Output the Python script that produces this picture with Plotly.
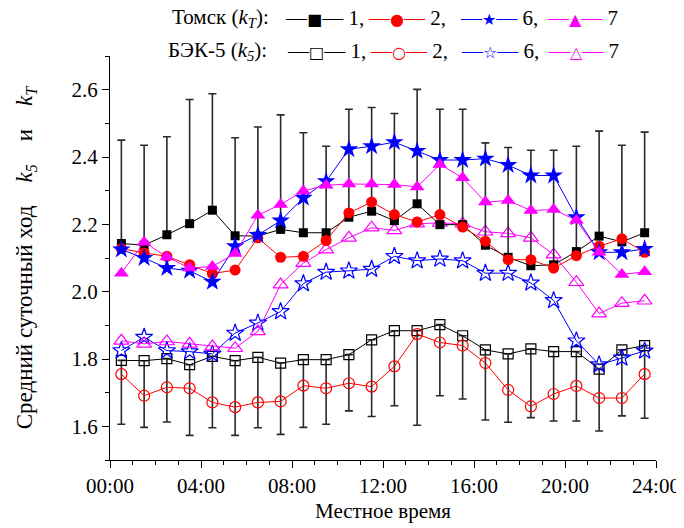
import plotly.graph_objects as go

hours = [h + 0.5 for h in range(24)]

tomsk_1 = [2.143, 2.138, 2.169, 2.202, 2.242, 2.166, 2.165, 2.185, 2.175, 2.175, 2.221, 2.239,
           2.211, 2.261, 2.199, 2.199, 2.138, 2.102, 2.077, 2.080, 2.119, 2.165, 2.148, 2.175]
tomsk_1_err = [0.307, 0.297, 0.291, 0.369, 0.346, 0.291, 0.324, 0.340, 0.297, 0.257, 0.321, 0.308,
               0.318, 0.340, 0.343, 0.343, 0.304, 0.326, 0.343, 0.340, 0.313, 0.312, 0.287, 0.299]
tomsk_2 = [2.128, 2.115, 2.105, 2.080, 2.054, 2.064, 2.160, 2.102, 2.105, 2.152, 2.234, 2.266,
           2.229, 2.207, 2.229, 2.192, 2.150, 2.095, 2.095, 2.070, 2.107, 2.135, 2.157, 2.117]
tomsk_6 = [2.125, 2.100, 2.070, 2.062, 2.029, 2.135, 2.168, 2.211, 2.279, 2.328, 2.423, 2.432,
           2.444, 2.418, 2.391, 2.391, 2.395, 2.376, 2.345, 2.345, 2.221, 2.117, 2.117, 2.127]
tomsk_7 = [2.055, 2.147, 2.103, 2.070, 2.075, 2.113, 2.227, 2.259, 2.299, 2.316, 2.320, 2.320,
           2.318, 2.311, 2.378, 2.338, 2.266, 2.271, 2.241, 2.244, 2.212, 2.117, 2.051, 2.059]

bek_1 = [1.796, 1.795, 1.801, 1.783, 1.808, 1.795, 1.805, 1.788, 1.798, 1.798, 1.813, 1.857,
         1.884, 1.884, 1.902, 1.869, 1.827, 1.815, 1.830, 1.822, 1.822, 1.770, 1.827, 1.840]
bek_1_err = [0.190, 0.198, 0.188, 0.210, 0.212, 0.222, 0.209, 0.212, 0.201, 0.192, 0.167, 0.228,
             0.223, 0.281, 0.211, 0.188, 0.208, 0.203, 0.204, 0.206, 0.206, 0.184, 0.196, 0.216]
bek_2 = [1.755, 1.691, 1.716, 1.713, 1.671, 1.657, 1.671, 1.674, 1.721, 1.713, 1.728, 1.718,
         1.778, 1.874, 1.849, 1.840, 1.788, 1.708, 1.659, 1.696, 1.720, 1.684, 1.684, 1.755]
bek_6 = [1.825, 1.865, 1.825, 1.822, 1.815, 1.877, 1.907, 1.941, 2.024, 2.058, 2.062, 2.067,
         2.105, 2.092, 2.097, 2.092, 2.055, 2.055, 2.026, 1.974, 1.854, 1.783, 1.803, 1.824]
bek_7 = [1.854, 1.845, 1.852, 1.845, 1.837, 1.832, 1.882, 2.021, 2.085, 2.125, 2.160, 2.190,
         2.182, 2.202, 2.204, 2.202, 2.178, 2.173, 2.160, 2.110, 2.028, 1.935, 1.966, 1.973]

x_tick_vals = [0, 4, 8, 12, 16, 20, 24]
x_tick_text = ["00:00", "04:00", "08:00", "12:00", "16:00", "20:00", "24:00"]

legend_labels = ["1", "2", "6", "7"]
legend_colors = ["black", "red", "blue", "magenta"]
tomsk_glyphs = ["■", "●", "★", "▲"]
bek_glyphs = ["□", "○", "☆", "△"]

FONT = "Liberation Serif"
zeros = [0] * 24

# page body has an 8px margin, so the figure is drawn 8px in from the window edge
OFF = 8
W, H = 684 - OFF, 528 - OFF
ML, MR, MT, MB = 102, 28, 48, 68
PW, PH = W - ML - MR, H - MT - MB

fig = go.Figure()

# БЭК-5 (open markers)
fig.add_trace(go.Scatter(x=hours, y=bek_1, mode="lines+markers",
                         line=dict(color="black", width=1),
                         marker=dict(symbol="square-open", size=10, color="black", line=dict(width=1.2)),
                         error_y=dict(type="data", symmetric=False, array=zeros, arrayminus=bek_1_err,
                                      color="#2a2a2a", thickness=1.6, width=4)))
fig.add_trace(go.Scatter(x=hours, y=bek_2, mode="lines+markers",
                         line=dict(color="red", width=1),
                         marker=dict(symbol="circle-open", size=11, color="red", line=dict(width=1.2))))
fig.add_trace(go.Scatter(x=hours, y=bek_6, mode="lines+markers",
                         line=dict(color="blue", width=1),
                         marker=dict(symbol="star-open", size=13, color="blue", line=dict(width=1.2))))
fig.add_trace(go.Scatter(x=hours, y=bek_7, mode="lines+markers",
                         line=dict(color="magenta", width=1),
                         marker=dict(symbol="triangle-up-open", size=13, color="magenta", line=dict(width=1.2))))

# Томск (filled markers)
fig.add_trace(go.Scatter(x=hours, y=tomsk_1, mode="lines+markers",
                         line=dict(color="black", width=1),
                         marker=dict(symbol="square", size=9, color="black"),
                         error_y=dict(type="data", symmetric=False, array=tomsk_1_err, arrayminus=zeros,
                                      color="#2a2a2a", thickness=1.6, width=4)))
fig.add_trace(go.Scatter(x=hours, y=tomsk_2, mode="lines+markers",
                         line=dict(color="red", width=1),
                         marker=dict(symbol="circle", size=11, color="red")))
fig.add_trace(go.Scatter(x=hours, y=tomsk_6, mode="lines+markers",
                         line=dict(color="blue", width=1),
                         marker=dict(symbol="star", size=14, color="blue")))
fig.add_trace(go.Scatter(x=hours, y=tomsk_7, mode="lines+markers",
                         line=dict(color="magenta", width=1),
                         marker=dict(symbol="triangle-up", size=13, color="magenta")))


def px_x(px):
    return (px - OFF - ML) / PW


def px_y(py):
    return (H - MB - (py - OFF)) / PH


def legend_row(prefix, prefix_x, glyphs, item_xs, py):
    fig.add_annotation(text=prefix, xref="paper", yref="paper", x=px_x(prefix_x), y=px_y(py),
                       xanchor="left", yanchor="middle", showarrow=False,
                       font=dict(family=FONT, size=21, color="black"))
    for i, (g, c, lab, ix) in enumerate(zip(glyphs, legend_colors, legend_labels, item_xs)):
        sep = "," if i < len(legend_labels) - 1 else ""
        txt = (f"<span style='color:{c}'>—</span><span style='color:{c};font-family:DejaVu Sans;font-size:16px'>{g}</span>"
               f"<span style='color:{c}'>—</span> {lab}{sep}")
        fig.add_annotation(text=txt, xref="paper", yref="paper", x=px_x(ix), y=px_y(py),
                           xanchor="left", yanchor="middle", showarrow=False,
                           font=dict(family=FONT, size=21, color="black"))


legend_row("Томск (<i>k</i><sub><i>T</i></sub>):", 170, tomsk_glyphs, [283, 366, 458, 545], 18)
legend_row("БЭК-5 (<i>k</i><sub><i>5</i></sub>):", 166, bek_glyphs, [285, 368, 459, 546], 51)

sp = "\u00a0\u00a0\u00a0\u00a0"
ytitle = f"Средний суточный ход{sp}<i>k</i><sub><i>5</i></sub>{sp}и{sp}<i>k</i><sub><i>T</i></sub>"

fig.update_layout(
    width=W, height=H,
    margin=dict(l=ML, r=MR, t=MT, b=MB),
    paper_bgcolor="white", plot_bgcolor="white",
    showlegend=False,
    font=dict(family=FONT, size=21, color="black"),
    xaxis=dict(range=[0, 24], tickvals=x_tick_vals, ticktext=x_tick_text, automargin=False,
               showline=True, linecolor="black", linewidth=1, mirror=False,
               ticks="outside", ticklen=7, tickwidth=1, tickcolor="black",
               minor=dict(dtick=1, tick0=0, ticks="outside", ticklen=4, tickcolor="black"),
               showgrid=False, zeroline=False,
               title=dict(text="Местное время", font=dict(family=FONT, size=21), standoff=6),
               tickfont=dict(family=FONT, size=21)),
    yaxis=dict(range=[1.5, 2.7], tick0=1.6, dtick=0.2, tickformat=".1f", automargin=False,
               showline=True, linecolor="black", linewidth=1,
               ticks="outside", ticklen=7, tickwidth=1, tickcolor="black",
               minor=dict(dtick=0.1, tick0=1.5, ticks="outside", ticklen=4, tickcolor="black"),
               showgrid=False, zeroline=False,
               title=dict(text=ytitle, font=dict(family=FONT, size=23), standoff=32),
               tickfont=dict(family=FONT, size=21)),
)

fig.write_html("out.html")
